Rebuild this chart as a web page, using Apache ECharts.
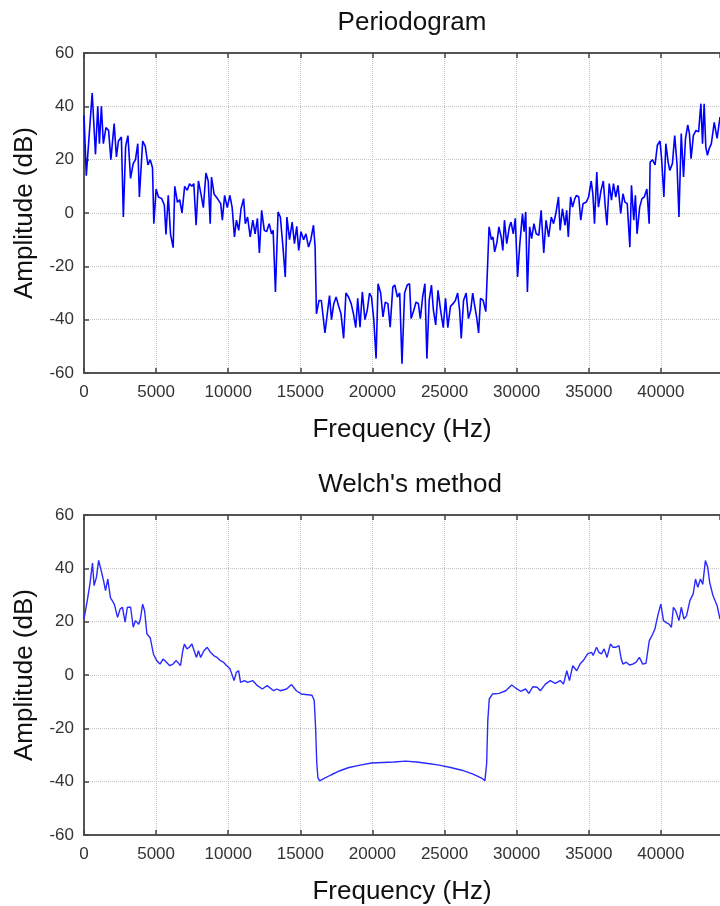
<!DOCTYPE html>
<html>
<head>
<meta charset="utf-8">
<script src="https://cdn.jsdelivr.net/npm/echarts@6/dist/echarts.min.js"></script>
<style>
  html, body { margin: 0; padding: 0; background: #fff; }
  #chart { width: 720px; height: 906px; }
</style>
</head>
<body>
<div id="chart"></div>
<script>
// Periodogram (Hz, dB)
const pFreq = [0,159,568,796,955,1068,1205,1341,1523,1705,1864,2091,2250,2387,2591,2728,2887,3046,3228,3410,
  3569,3728,3841,4069,4251,4432,4591,4751,4841,5001,5160,5387,5569,5683,5842,6001,6183,6296,6478,6637,
  6796,6978,7160,7319,7478,7615,7774,7933,8115,8274,8456,8615,8751,8842,9024,9251,9478,9592,9751,9933,
  10115,10274,10433,10569,10729,10888,11070,11183,11342,11524,11706,11865,12024,12161,12320,12502,12661,12842,13002,13115,
  13274,13456,13615,13797,13956,14070,14252,14434,14593,14752,14888,15047,15229,15388,15570,15729,15911,16025,16116,16298,
  16457,16571,16707,16866,17025,17161,17321,17480,17661,17820,18002,18161,18343,18525,18684,18843,18980,19139,19298,19480,
  19639,19798,19934,20093,20253,20389,20571,20730,20889,21071,21230,21412,
  21550,21732,21891,22049,22231,22413,22572,22685,22867,23026,23184,23321,23480,23638,23775,23934,24092,24229,24388,24546,
  24728,24910,25069,25227,25409,25591,25750,25908,26045,26158,26317,26499,26658,26816,26953,27066,27225,27361,27497,27679,
  27861,27974,28088,28247,28360,28474,28632,28769,28928,29041,29155,29313,29495,29609,29767,29904,30063,30221,30403,30517,
  30630,30744,30902,31039,31198,31356,31538,31697,31879,32037,32219,32401,32560,32718,32900,33014,33172,33354,33468,33581,
  33740,33876,34035,34149,34307,34444,34603,34830,34988,35170,35284,35397,35556,35669,35851,36010,36146,36260,36419,36577,
  36714,36873,37031,37213,37372,37508,37667,37849,37962,38121,38235,38348,38530,38689,38847,39029,39188,39256,39415,39597,
  39755,39937,40051,40209,40346,40505,40618,40800,40959,41117,41254,41413,41571,41708,41867,41980,42094,42252,42434,42616,
  42775,42888,43002,43115,43229,43342,43500,43700,43900,44100];
const pAmp = [36.6,14,45,22,40,26,40,26,32,31,20,33.5,21,27,28.5,-1.5,25,29,13,18.5,
  20,26,6,27,25,18,20,17,-4,9,6,5.4,3,-8,6.6,-8,-13,10,4,5,
  0,10,8.5,11,10,11,-4.6,12,7,2,15,12,-4,13.5,7,5.4,3.5,-2.7,6.6,2,
  6.6,2,-9,-2.7,-6.5,1.6,5.4,-4,-1.5,-9,-2.7,-7.8,-2,-15,1,-6.5,-7,-4,-7.8,-6.5,
  -29.6,0.4,-1.5,-12.8,-24,-1.5,-10,-3.4,-11.5,-5,-14,-7,-10,-7.8,-12.8,-10,-4.6,-12.8,-37.8,-32.8,
  -32.8,-33.4,-45,-37.8,-31,-40,-34,-31.5,-35,-37.8,-47,-30,-31.5,-34,-37.8,-43,-32,-42.8,-29.6,-40,
  -36.5,-30,-31.5,-40,-54.6,-26.5,-30,-39,-33.4,-34,-42.8,-27.8,
  -27,-31.5,-30,-56.5,-30,-27,-26.5,-39.6,-36.5,-33.4,-34,-39.6,-31.5,-26.5,-54.6,-32.8,-27,-36.5,-42,-29,
  -36.5,-43,-32,-43,-35,-34,-32.8,-30,-36.5,-47,-32.8,-30,-39.6,-36.5,-30,-34,-39,-45,-32,-32.8,
  -37,-36.5,-5.2,-10,-9,-14.6,-11,-5.2,-9,-14,-2.7,-11.5,-5.2,-3.4,-7.8,-2,-24,-11.5,-0.2,-7,
  0.4,-29.6,-5.2,-9.6,-4,-7.8,-8.4,1,-15,-2.7,-9,-1.5,-4,-0.2,6,-6.5,1.6,-4.6,1,-9,
  6,2.2,5.4,6.6,6,-2.7,3.5,4.1,6,12,7.2,-4,15.4,2.2,8.5,12,2.2,-4.6,11,4.8,
  11,6,10.4,-0.2,7.2,4.1,3.5,-12.8,10.4,-2.7,6.6,-7.8,2.2,5.4,6,9,-4,19,20,18,
  25.4,27,20.4,6,26,19,16,18.5,29,18.5,-1.5,29.8,13.5,28,33,29.8,20.4,29,31,30.4,
  41,26,41,24.8,21.6,24,26,34,28,36];

// Welch's method (Hz, dB)
const wFreq = [0,226,407,588,700,859,1017,1198,1356,1492,1650,1831,2102,2328,2509,2667,2848,3006,3232,3413,
  3571,3797,3910,4068,4204,4362,4588,4814,5040,5266,5492,5718,5944,6170,6396,6690,6848,6961,7142,7300,
  7481,7639,7797,7933,8091,8317,8543,8769,8995,9221,9447,9673,9899,10125,10225,10405,10563,10720,10855,11125,
  11350,11688,12025,12363,12700,13150,13375,13600,14050,14388,14725,15063,15513,15805,15963,16060,16140,16220,16339,16652,
  17121,17747,18373,19156,19938,20721,21503,22286,23068,23851,24633,25416,26198,26981,27607,27800,27920,28000,28101,28330,
  28787,29245,29657,29931,30275,30618,30847,31121,31419,31647,31991,32334,32677,33020,33249,33478,33661,33890,34164,34393,
  34622,34920,35194,35308,35537,35697,35880,36063,36269,36498,36681,36864,37093,37253,37368,37596,37825,38054,38283,38511,
  38740,38969,39198,39381,39587,39816,39999,40183,40343,40571,40731,40868,41028,41257,41417,41600,41783,42012,42241,42401,
  42561,42744,42904,43087,43247,43385,43600,43900,44100];
const wAmp = [21,27.9,34,42,33.5,36.6,43,39,35.4,31.6,36,29,26.6,21.6,24.8,25.4,19.8,25.4,25.4,17.9,
  20.4,19,21,26.6,24,15.4,14,7.9,5.4,4.1,6,4.8,3.5,4.1,5.4,3.5,9.1,11.6,9.8,10.4,
  11.6,9.1,6.6,9.1,6.6,9.1,10.4,8.5,7.3,6.6,5.4,4.8,3.5,2.3,1.6,-2.1,1,1.6,-2.75,-2.1,
  -2.75,-2.1,-4,-5.25,-4,-5.9,-5.25,-5.9,-5.25,-3.6,-5.9,-7.1,-7.4,-7.6,-9.5,-20,-33,-38.5,-39.7,-38.8,
  -37.5,-35.9,-34.7,-33.8,-33,-32.8,-32.6,-32.3,-32.6,-33.2,-33.8,-34.7,-35.7,-37.2,-38.8,-39.6,-33.2,-17,-9,-7.1,
  -6.9,-5.9,-3.75,-4.9,-6.1,-5.25,-6.9,-4.4,-4.6,-5.9,-3.4,-2.1,-3.1,-2.1,-3.4,1.6,-2.1,3.5,1.6,4.1,
  5.4,7.9,8.5,7.3,10.4,8.5,7.9,9.8,6.6,11.6,10.4,10.4,11,6,4.1,4.8,3.75,4.1,4.8,6.6,
  4.1,4.4,12.9,14.75,17.25,22.9,26.6,20.4,19.75,19.1,17.9,25.4,24.1,20.4,25.4,21,22.25,27.9,30.4,36,
  32.9,36,34,42.9,40.4,34.75,30,26,21];

const xTicks = { min: 0, max: 44100, interval: 5000 };
const yTicks = { min: -60, max: 60, interval: 20 };

const font = 'Liberation Sans, Arial, sans-serif';
const zip = (xs, ys) => xs.map((x, i) => [x, ys[i]]);

const chart = echarts.init(document.getElementById('chart'));

const frameLine = { show: true, onZero: false, lineStyle: { color: '#555', width: 2 } };
const tick = { show: true, inside: true, length: 5, lineStyle: { color: '#444', width: 1.5 } };
const dotted = { show: true, lineStyle: { color: '#c4c4c4', type: 'dotted', width: 1 } };

const bottomX = (g) => ({
  gridIndex: g, type: 'value', ...xTicks,
  axisLine: frameLine, axisTick: tick, splitLine: dotted,
  axisLabel: { fontFamily: font, fontSize: 17, color: '#333', margin: 11, showMaxLabel: false,
    formatter: (v) => String(v) },
  name: 'Frequency (Hz)', nameLocation: 'middle', nameGap: 44,
  nameTextStyle: { fontFamily: font, fontSize: 26, color: '#111' }
});
const topX = (g) => ({
  gridIndex: g, type: 'value', position: 'top', ...xTicks,
  axisLine: frameLine, axisTick: tick, axisLabel: { show: false }, splitLine: { show: false }
});
const leftY = (g) => ({
  gridIndex: g, type: 'value', ...yTicks,
  axisLine: frameLine, axisTick: tick, splitLine: dotted,
  axisLabel: { fontFamily: font, fontSize: 17, color: '#333', margin: 10 },
  name: 'Amplitude (dB)', nameLocation: 'middle', nameGap: 46, nameRotate: 90,
  nameTextStyle: { fontFamily: font, fontSize: 26, color: '#111' }
});

chart.setOption({
  animation: false,
  title: [
    { text: 'Periodogram', left: 407, top: 5, textAlign: 'center',
      textStyle: { fontFamily: font, fontSize: 26, fontWeight: 'normal', color: '#111' } },
    { text: "Welch's method", left: 405, top: 467, textAlign: 'center',
      textStyle: { fontFamily: font, fontSize: 26, fontWeight: 'normal', color: '#111' } }
  ],
  grid: [
    { left: 84, top: 53, width: 646, height: 320 },
    { left: 84, top: 515, width: 646, height: 320 }
  ],
  xAxis: [bottomX(0), topX(0), bottomX(1), topX(1)],
  yAxis: [leftY(0), leftY(1)],
  series: [
    { type: 'line', xAxisIndex: 0, yAxisIndex: 0, data: zip(pFreq, pAmp), showSymbol: false,
      lineStyle: { color: '#0000ff', width: 1.6 } },
    { type: 'line', xAxisIndex: 2, yAxisIndex: 1, data: zip(wFreq, wAmp), showSymbol: false,
      lineStyle: { color: '#2a2aff', width: 1.4 } }
  ]
});

window.addEventListener('resize', () => chart.resize());
</script>
</body>
</html>
